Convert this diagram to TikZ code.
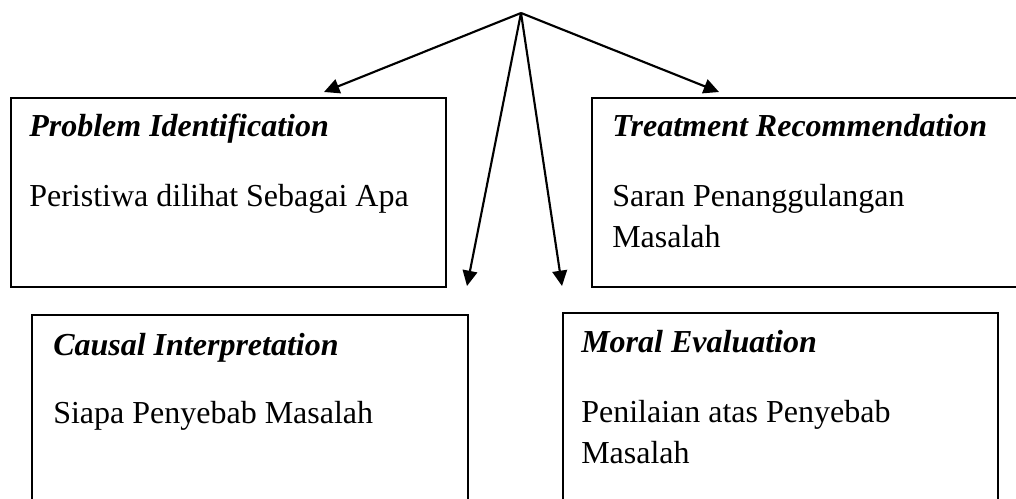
\documentclass[tikz,border=0pt]{standalone}
\usepackage{fontspec}
\setmainfont{Liberation Serif}
\usetikzlibrary{arrows.meta}

\tikzset{
  frame/.style={draw, line width=1.3pt, inner sep=0pt, anchor=north west},
  head/.style={anchor=base west, inner sep=0pt, font=\fontsize{24}{30.75}\selectfont\bfseries\itshape},
  body/.style={anchor=base west, inner sep=0pt, align=left, font=\fontsize{24}{30.75}\selectfont}
}

\begin{document}
\begin{tikzpicture}[x=0.75pt, y=-0.75pt, >={Triangle[length=11.5pt,width=11pt]}]
\useasboundingbox (0,0) rectangle (1016,499);
\clip (0,0) rectangle (1016,499);

% boxes
\node[frame, minimum width=326.25pt, minimum height=141.75pt] (probid) at (10,97) {};
\node[frame, minimum width=330pt, minimum height=141.75pt] (treat) at (591,97) {};
\node[frame, minimum width=327pt, minimum height=150pt] (causal) at (31,314) {};
\node[frame, minimum width=326.25pt, minimum height=150pt] (moral) at (562,312) {};

% texts (base of a two-line text is its last line)
\node[head] (probhead) at (29,137) {Problem Identification};
\node[body] (probtext) at (29,206) {Peristiwa dilihat Sebagai Apa};
\node[head] (treathead) at (612,137) {Treatment Recommendation};
\node[body] (treattext) at (612,247) {Saran Penanggulangan\\Masalah};
\node[head] (causalhead) at (53,355) {Causal Interpretation};
\node[body] (causaltext) at (53,423) {Siapa Penyebab Masalah};
\node[head] (moralhead) at (581,352) {Moral Evaluation};
\node[body] (moraltext) at (581,463) {Penilaian atas Penyebab\\Masalah};

% arrows
\coordinate (top) at (521,13);
\coordinate (tipL) at (324,92);
\coordinate (tipR) at (719,92);
\coordinate (tipCL) at (467,286);
\coordinate (tipCR) at (562,286);
\draw[->, line width=1.6pt] (top) -- (tipL);
\draw[->, line width=1.6pt] (top) -- (tipR);
\draw[->, line width=1.6pt] (top) -- (tipCL);
\draw[->, line width=1.6pt] (top) -- (tipCR);
\end{tikzpicture}
\end{document}
